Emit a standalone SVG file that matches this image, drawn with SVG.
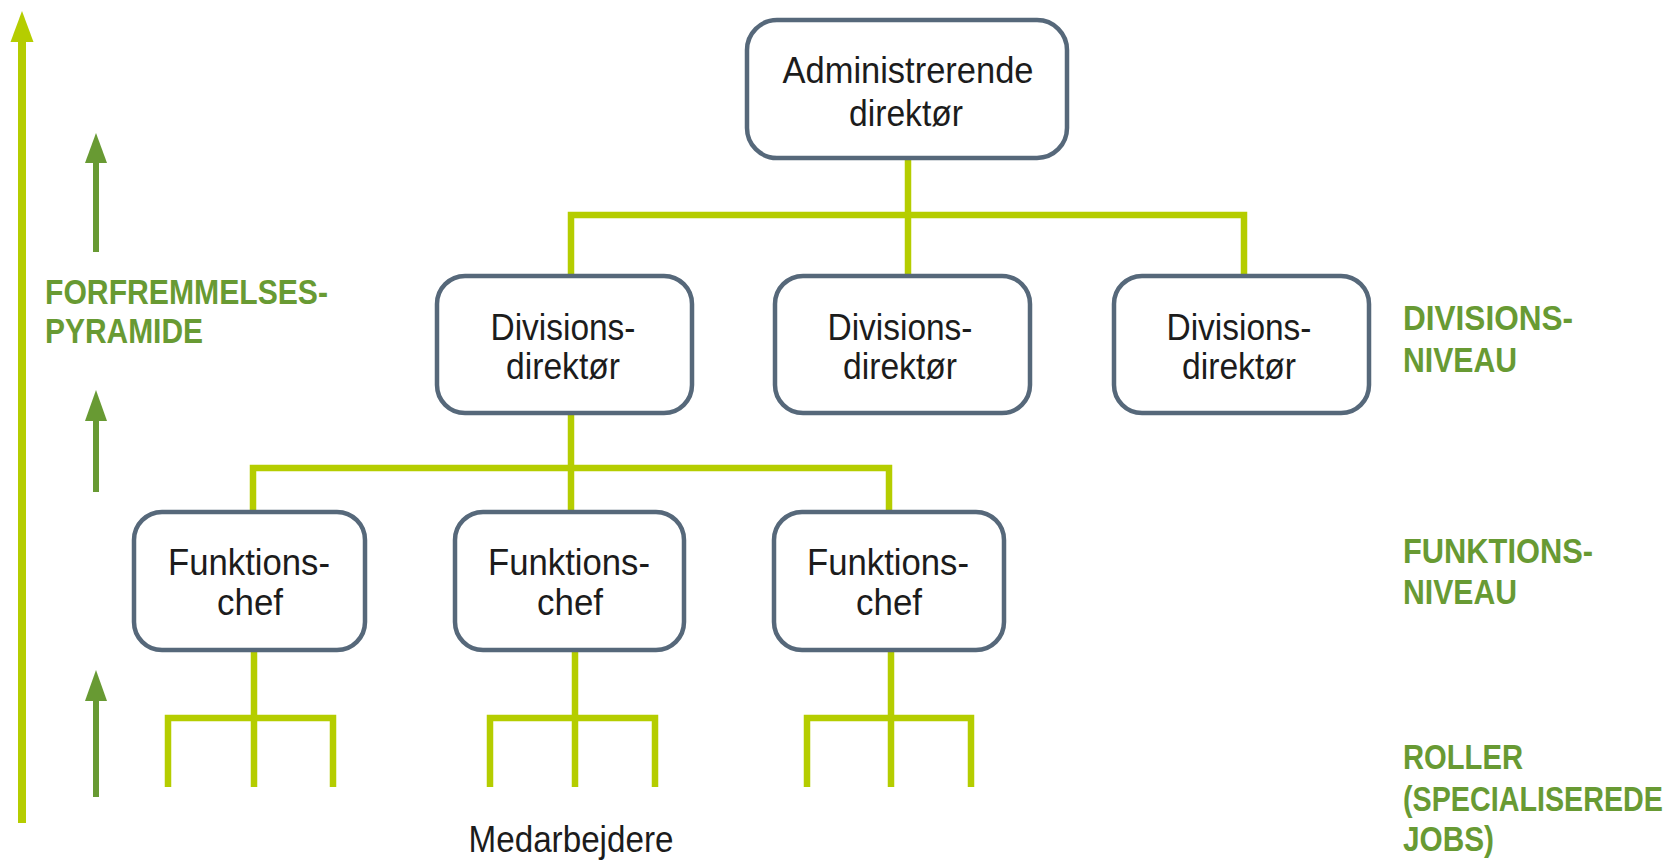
<svg xmlns="http://www.w3.org/2000/svg" width="1680" height="860" viewBox="0 0 1680 860">
  <style>
    .box { fill: #ffffff; stroke: #56687a; stroke-width: 4.5; }
    .lbl { font-family: "Liberation Sans", Arial, sans-serif; font-size: 36px; fill: #1c1c1c; text-anchor: middle; }
    .lvl { font-family: "Liberation Sans", Arial, sans-serif; font-size: 35px; font-weight: bold; fill: #689a33; }
    .wire { fill: none; stroke: #b5cd00; stroke-width: 6.5; stroke-linejoin: miter; stroke-linecap: butt; }
    .up { stroke: #689a33; stroke-width: 6; }
    .uphead { fill: #689a33; }
  </style>

  <rect width="1680" height="860" fill="#ffffff"/>

  <!-- promotion axis on the left -->
  <g id="axis">
    <line x1="22" y1="823" x2="22" y2="38" stroke="#b5cd00" stroke-width="8"/>
    <polygon points="10.5,42 22,11 33.5,42" fill="#b5cd00"/>
    <line class="up" x1="96" y1="252" x2="96" y2="158"/>
    <polygon class="uphead" points="85,163 96,133 107,163"/>
    <line class="up" x1="96" y1="492" x2="96" y2="416"/>
    <polygon class="uphead" points="85,421 96,390 107,421"/>
    <line class="up" x1="96" y1="797" x2="96" y2="696"/>
    <polygon class="uphead" points="85,701 96,670 107,701"/>
    <text class="lvl" x="45" y="304" textLength="283" lengthAdjust="spacingAndGlyphs">FORFREMMELSES-</text>
    <text class="lvl" x="45" y="343" textLength="158" lengthAdjust="spacingAndGlyphs">PYRAMIDE</text>
  </g>

  <!-- connectors -->
  <g id="connectors">
    <line class="wire" x1="908" y1="157" x2="908" y2="276"/>
    <polyline class="wire" points="571,276 571,215 1244,215 1244,276"/>
    <line class="wire" x1="571" y1="413" x2="571" y2="512"/>
    <polyline class="wire" points="253,512 253,468 889,468 889,512"/>
    <!-- staff forks below each function head -->
    <line class="wire" x1="254" y1="650" x2="254" y2="787"/>
    <polyline class="wire" points="168,787 168,718 333,718 333,787"/>
    <line class="wire" x1="575" y1="650" x2="575" y2="787"/>
    <polyline class="wire" points="490,787 490,718 655,718 655,787"/>
    <line class="wire" x1="891" y1="650" x2="891" y2="787"/>
    <polyline class="wire" points="807,787 807,718 971,718 971,787"/>
  </g>

  <!-- chief executive -->
  <g id="ceo">
    <rect class="box" x="747" y="20" width="320" height="138" rx="30"/>
    <text class="lbl" x="908" y="83" textLength="251" lengthAdjust="spacingAndGlyphs">Administrerende</text>
    <text class="lbl" x="906" y="126" textLength="114" lengthAdjust="spacingAndGlyphs">direktør</text>
  </g>

  <!-- division directors -->
  <g id="division-1">
    <rect class="box" x="437" y="276" width="255" height="137" rx="28"/>
    <text class="lbl" x="563" y="340" textLength="145" lengthAdjust="spacingAndGlyphs">Divisions-</text>
    <text class="lbl" x="563" y="379" textLength="114" lengthAdjust="spacingAndGlyphs">direktør</text>
  </g>
  <g id="division-2">
    <rect class="box" x="775" y="276" width="255" height="137" rx="28"/>
    <text class="lbl" x="900" y="340" textLength="145" lengthAdjust="spacingAndGlyphs">Divisions-</text>
    <text class="lbl" x="900" y="379" textLength="114" lengthAdjust="spacingAndGlyphs">direktør</text>
  </g>
  <g id="division-3">
    <rect class="box" x="1114" y="276" width="255" height="137" rx="28"/>
    <text class="lbl" x="1239" y="340" textLength="145" lengthAdjust="spacingAndGlyphs">Divisions-</text>
    <text class="lbl" x="1239" y="379" textLength="114" lengthAdjust="spacingAndGlyphs">direktør</text>
  </g>

  <!-- function heads -->
  <g id="function-1">
    <rect class="box" x="134" y="512" width="231" height="138" rx="28"/>
    <text class="lbl" x="249" y="575" textLength="162" lengthAdjust="spacingAndGlyphs">Funktions-</text>
    <text class="lbl" x="250" y="615" textLength="66" lengthAdjust="spacingAndGlyphs">chef</text>
  </g>
  <g id="function-2">
    <rect class="box" x="455" y="512" width="229" height="138" rx="28"/>
    <text class="lbl" x="569" y="575" textLength="162" lengthAdjust="spacingAndGlyphs">Funktions-</text>
    <text class="lbl" x="570" y="615" textLength="66" lengthAdjust="spacingAndGlyphs">chef</text>
  </g>
  <g id="function-3">
    <rect class="box" x="774" y="512" width="230" height="138" rx="28"/>
    <text class="lbl" x="888" y="575" textLength="162" lengthAdjust="spacingAndGlyphs">Funktions-</text>
    <text class="lbl" x="889" y="615" textLength="66" lengthAdjust="spacingAndGlyphs">chef</text>
  </g>

  <g id="staff">
    <text class="lbl" x="571" y="852" textLength="205" lengthAdjust="spacingAndGlyphs">Medarbejdere</text>
  </g>

  <!-- level captions -->
  <g id="levels">
    <text class="lvl" x="1403" y="330" textLength="170" lengthAdjust="spacingAndGlyphs">DIVISIONS-</text>
    <text class="lvl" x="1403" y="372" textLength="114" lengthAdjust="spacingAndGlyphs">NIVEAU</text>
    <text class="lvl" x="1403" y="563" textLength="190" lengthAdjust="spacingAndGlyphs">FUNKTIONS-</text>
    <text class="lvl" x="1403" y="604" textLength="114" lengthAdjust="spacingAndGlyphs">NIVEAU</text>
    <text class="lvl" x="1403" y="769" textLength="120" lengthAdjust="spacingAndGlyphs">ROLLER</text>
    <!-- widest caption: narrowed with a horizontal scale so it stays inside the page -->
    <text class="lvl" transform="matrix(0.82 0 0 1 1403 811)">(SPECIALISEREDE</text>
    <text class="lvl" x="1403" y="851" textLength="91" lengthAdjust="spacingAndGlyphs">JOBS)</text>
  </g>
</svg>
